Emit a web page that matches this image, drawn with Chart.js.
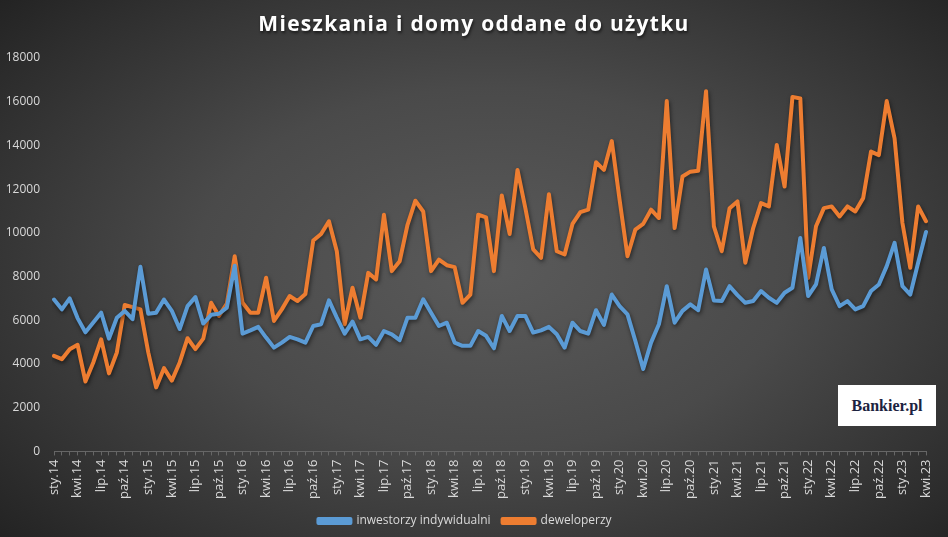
<!DOCTYPE html>
<html>
<head>
<meta charset="utf-8">
<script src="https://cdn.jsdelivr.net/npm/chart.js@4"></script>
<style>
  html, body { margin: 0; padding: 0; }
  body {
    width: 948px; height: 537px; overflow: hidden; position: relative;
    background: radial-gradient(ellipse 70% 75% at 52% 50%, #5a5a5a 0%, #4a4a4a 45%, #2e2e2e 85%, #232323 100%);
  }
  #wrap { position: absolute; left: 0; top: 0; width: 948px; height: 537px; }
  #title {
    position: absolute; left: 0; top: 8px; width: 948px; text-align: center;
    color: #fff; font-family: "Open Sans", sans-serif; font-weight: bold; font-size: 21px;
    line-height: 30px; letter-spacing: 1.3px; text-shadow: 1px 2px 3px rgba(0,0,0,0.6);
  }
  #logo {
    position: absolute; left: 838px; top: 385px; width: 98px; height: 41px;
    background: #fff; color: #1c2340; font-family: "Liberation Serif", serif; font-weight: bold;
    font-size: 16px; line-height: 41px; text-align: center;
  }
</style>
</head>
<body>
<div id="wrap"><canvas id="chart" width="948" height="537"></canvas></div>
<div id="title">Mieszkania i domy oddane do użytku</div>
<div id="logo">Bankier.pl</div>
<script>
// months / years for category labels
const monthNames = ['sty', 'lut', 'mar', 'kwi', 'maj', 'cze', 'lip', 'sie', 'wrz', 'paź', 'lis', 'gru'];
const years = ['14', '15', '16', '17', '18', '19', '20', '21', '22', '23'];
const lastYearMonths = 4; // data ends on kwi.23

const yTicks = [0, 2000, 4000, 6000, 8000, 10000, 12000, 14000, 16000, 18000];

// inwestorzy indywidualni
const individual = [
  6950, 6500, 7000, 6100, 5450, 5900, 6350, 5160, 6120, 6430, 6050, 8450,
  6300, 6350, 6950, 6430, 5600, 6650, 7060, 5850, 6250, 6300, 6580, 8500,
  5390, 5540, 5700, 5210, 4750, 4980, 5240, 5130, 4980, 5740, 5820, 6910,
  6120, 5390, 5940, 5130, 5240, 4880, 5510, 5360, 5090, 6120, 6120, 6960,
  6350, 5740, 5890, 4980, 4830, 4830, 5510, 5290, 4720, 6200, 5510, 6200,
  6200, 5440, 5540, 5700, 5360, 4750, 5890, 5510, 5390, 6460, 5790, 7180,
  6650, 6270, 5060, 3770, 4980, 5820, 7560, 5890, 6430, 6730, 6460, 8320,
  6910, 6880, 7560, 7150, 6800, 6880, 7340, 7030, 6800, 7260, 7490, 9770,
  7110, 7640, 9310, 7410, 6650, 6880, 6500, 6650, 7340, 7640, 8480, 9540,
  7560, 7180, 8630, 10040
];

// deweloperzy
const developers = [
  4375, 4220, 4680, 4880, 3200, 4070, 5130, 3570, 4530, 6700, 6600, 6500,
  4530, 2930, 3810, 3240, 4070, 5180, 4680, 5160, 6800, 6200, 6760, 8930,
  6800, 6350, 6350, 7950, 5970, 6500, 7110, 6880, 7200, 9650, 9950, 10530,
  9160, 5820, 7490, 6120, 8170, 7870, 10830, 8250, 8700, 10370, 11470, 10980,
  8250, 8780, 8520, 8430, 6800, 7180, 10830, 10710, 8250, 11710, 9950, 12880,
  11130, 9240, 8860, 11770, 9160, 9010, 10410, 10950, 11060, 13230, 12880, 14200,
  11500, 8930, 10150, 10410, 11060, 10680, 16030, 10220, 12580, 12800, 12840, 16480,
  10300, 9160, 11130, 11440, 8630, 10220, 11360, 11210, 14020, 12120, 16220, 16150,
  7940, 10300, 11130, 11210, 10750, 11210, 10980, 11590, 13720, 13560, 16030, 14320,
  10450, 8400, 11210, 10530
];

const categories = [];
years.forEach((yy, yi) => {
  const n = yi === years.length - 1 ? lastYearMonths : 12;
  for (let m = 0; m < n; m++) categories.push(monthNames[m] + '.' + yy);
});

const lineShadow = {
  id: 'lineShadow',
  beforeDatasetsDraw(chart) {
    const ctx = chart.ctx;
    ctx.save();
    ctx.shadowColor = 'rgba(0,0,0,0.55)';
    ctx.shadowBlur = 4;
    ctx.shadowOffsetX = 1;
    ctx.shadowOffsetY = 2;
  },
  afterDatasetsDraw(chart) {
    chart.ctx.restore();
  }
};

const tickColor = '#d9d9d9';
const baseFont = '"Open Sans", "Liberation Sans", sans-serif';

new Chart(document.getElementById('chart'), {
  type: 'line',
  data: {
    labels: categories,
    datasets: [
      {
        label: 'inwestorzy indywidualni',
        data: individual,
        borderColor: '#5b9bd5',
        backgroundColor: '#5b9bd5',
        borderWidth: 4,
        pointRadius: 0,
        tension: 0,
        borderJoinStyle: 'round',
        borderCapStyle: 'round'
      },
      {
        label: 'deweloperzy',
        data: developers,
        borderColor: '#ed7d31',
        backgroundColor: '#ed7d31',
        borderWidth: 4,
        pointRadius: 0,
        tension: 0,
        borderJoinStyle: 'round',
        borderCapStyle: 'round'
      }
    ]
  },
  options: {
    responsive: false,
    animation: false,
    layout: { padding: { left: 4, right: 22, top: 58, bottom: 0 } },
    plugins: {
      title: { display: false },
      legend: {
        position: 'bottom',
        labels: {
          color: tickColor,
          font: { family: baseFont, size: 12 },
          boxWidth: 32,
          boxHeight: 4,
          padding: 12
        }
      },
      tooltip: { enabled: false }
    },
    scales: {
      x: {
        offset: false,
        grid: { display: true, drawOnChartArea: false, drawTicks: true, tickLength: 4, color: '#666' },
        border: { display: true, color: '#666' },
        ticks: {
          color: tickColor,
          autoSkip: false,
          maxRotation: 90,
          minRotation: 90,
          padding: 4,
          font: { family: baseFont, size: 13 },
          callback: function (val, i) { return i % 3 === 0 ? categories[i] : ''; }
        }
      },
      y: {
        min: 0,
        max: 18000,
        afterBuildTicks: axis => { axis.ticks = yTicks.map(v => ({ value: v })); },
        afterFit: axis => { axis.width = 50; },
        grid: { display: false, drawTicks: false },
        border: { display: false },
        ticks: {
          color: tickColor,
          padding: 14,
          font: { family: baseFont, size: 12 },
          callback: v => String(v)
        }
      }
    }
  },
  plugins: [lineShadow]
});
</script>
</body>
</html>
